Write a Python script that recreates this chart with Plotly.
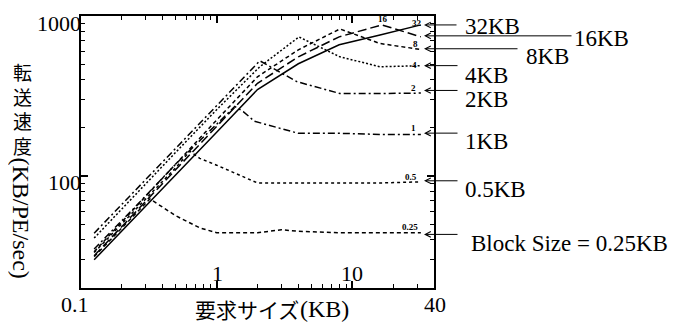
import numpy as np
import plotly.graph_objects as go

# ---------------- data ----------------
block_labels = ["32KB", "16KB", "8KB", "4KB", "2KB", "1KB", "0.5KB", "Block Size = 0.25KB"]
curve_tags = ["32", "16", "8", "4", "2", "1", "0.5", "0.25"]

x_32 = [0.125, 0.25, 0.5, 1, 2, 4, 8, 16, 32]
y_32 = [30, 55, 102, 188, 347, 503, 661, 762, 880]

x_16 = [0.125, 0.25, 0.5, 1, 2, 4, 8, 16.5, 32]
y_16 = [31.8, 59, 109, 204, 380, 556, 741, 880, 741]

x_8 = [0.125, 0.25, 0.5, 1, 2, 4, 8.1, 16, 32]
y_8 = [33.7, 63.5, 120, 224, 417, 615, 830, 673, 618]

x_4 = [0.125, 0.25, 0.5, 1, 2.08, 4.04, 8.1, 16, 32]
y_4 = [41, 75.5, 141, 260, 482, 740, 556, 482, 489]

x_2 = [0.125, 0.25, 0.5, 1, 2.08, 3.9, 8.1, 16, 32]
y_2 = [44, 81, 149, 275, 525, 389, 328, 328, 330]

x_1 = [0.125, 0.25, 0.5, 1, 1.36, 1.57, 1.9, 4, 8, 16, 32]
y_1 = [35, 64, 119, 212, 272, 253, 220, 185, 185, 182, 182]

x_05 = [0.125, 0.25, 0.5, 0.635, 0.75, 1, 2, 4, 8, 16, 32]
y_05 = [33.3, 61, 113, 143, 129, 117, 90.6, 90.6, 90.6, 90.6, 92]

x_025 = [0.125, 0.25, 0.322, 0.5, 0.75, 1, 2, 3, 4, 8, 16, 32]
y_025 = [31.4, 58, 72, 56.5, 47.5, 44.3, 44.3, 46.2, 45.2, 44.3, 44.3, 44.3]

x_tick_labels = ["0.1", "1", "10", "40"]
y_tick_labels = ["1000", "100"]

# ---------------- styling / layout ----------------
OFF = 8                          # default page margin of the html body
W, H = 682 - OFF, 327 - OFF
L, R, T, B = 81, 434, 14, 288    # plot area in window pixels
SERIF = "Liberation Serif"
CJK = "Noto Sans CJK JP"

def px(xp):
    return (xp - L) / (R - L)

def py(yp):
    return (B - yp) / (B - T)

series = [
    (x_32, y_32, "solid"),
    (x_16, y_16, "9px,4px"),
    (x_8, y_8, "4px,3px"),
    (x_4, y_4, "2px,2px"),
    (x_2, y_2, "7px,3px,2px,3px"),
    (x_1, y_1, "7px,3px,2px,3px"),
    (x_05, y_05, "3px,3px"),
    (x_025, y_025, "4px,3px"),
]

fig = go.Figure()
for (xs, ys, dash), name in zip(series, block_labels):
    fig.add_trace(go.Scatter(x=xs, y=ys, mode="lines", name=name,
                             line=dict(color="black", width=1.5, dash=dash),
                             showlegend=False, hoverinfo="skip"))

ann = []
# arrows + right labels
arrow_y = [23, 34, 47, 64, 89, 132, 180, 234]
arrow_tail = [458, 573, 519, 459, 459, 459, 459, 459]
label_x = [464, 573, 525, 464, 464, 464, 464, 470]
label_y = [25, 37, 55, 74, 98, 140, 189, 243]
tip_x = 424
for ay_, tail, lx, ly, lab in zip(arrow_y, arrow_tail, label_x, label_y, block_labels):
    ann.append(dict(xref="paper", yref="paper", x=px(tip_x), y=py(ay_), text="",
                    showarrow=True, arrowhead=5, arrowsize=1.1, arrowwidth=1,
                    arrowcolor="black", ax=tail - tip_x, ay=0))
    ann.append(dict(xref="paper", yref="paper", x=px(lx), y=py(ly), text=lab,
                    showarrow=False, xanchor="left", yanchor="middle", borderpad=0,
                    font=dict(family=SERIF, size=23, color="black")))

# small tags at curve ends
tag_pos = [(417, 21), (383, 17), (415, 42), (414, 63), (413, 87), (413, 127), (411, 176), (410, 227)]
for (tx, ty), tg in zip(tag_pos, curve_tags):
    ann.append(dict(xref="paper", yref="paper", x=px(tx), y=py(ty), text="<b>%s</b>" % tg,
                    showarrow=False, xanchor="center", yanchor="middle",
                    font=dict(family=SERIF, size=9, color="black")))

# tick labels
xt_pos = [(75, 305), (217, 273), (352, 273), (435, 305)]
for (tx, ty), t in zip(xt_pos, x_tick_labels):
    ann.append(dict(xref="paper", yref="paper", x=px(tx), y=py(ty), text=t,
                    showarrow=False, xanchor="center", yanchor="middle",
                    font=dict(family=SERIF, size=22, color="black")))
yt_pos = [(83, 22), (83, 182)]
for (tx, ty), t in zip(yt_pos, y_tick_labels):
    ann.append(dict(xref="paper", yref="paper", x=px(tx), y=py(ty), text=t,
                    showarrow=False, xanchor="right", yanchor="middle",
                    font=dict(family=SERIF, size=22, color="black")))

# axis titles
ann.append(dict(xref="paper", yref="paper", x=px(193), y=py(309), text="要求サイズ",
                showarrow=False, xanchor="left", yanchor="middle",
                font=dict(family=CJK, size=21, color="black")))
ann.append(dict(xref="paper", yref="paper", x=px(298), y=py(309), text="(KB)",
                showarrow=False, xanchor="left", yanchor="middle",
                font=dict(family=SERIF, size=24, color="black")))
ann.append(dict(xref="paper", yref="paper", x=px(22), y=py(107), text="転<br>送<br>速<br>度",
                showarrow=False, xanchor="center", yanchor="middle",
                font=dict(family=CJK, size=19, color="black")))
ann.append(dict(xref="paper", yref="paper", x=px(21), y=py(217), text="(KB/PE/sec)",
                showarrow=False, xanchor="center", yanchor="middle", textangle=90,
                font=dict(family=SERIF, size=24, color="black")))

x_minor = [0.2, 0.3, 0.4, 0.5, 0.6, 0.7, 0.8, 0.9, 2, 3, 4, 5, 6, 7, 8, 9, 20, 30]
y_minor = [30, 40, 50, 60, 70, 80, 90, 200, 300, 400, 500, 600, 700, 800, 900]

fig.update_layout(
    width=W, height=H, autosize=False,
    margin=dict(l=L - OFF, r=682 - R, t=T - OFF, b=327 - B, pad=0),
    paper_bgcolor="white", plot_bgcolor="white",
    annotations=ann,
    xaxis=dict(type="log", range=[-1, np.log10(40)], showgrid=False,
               showline=True, linewidth=2, linecolor="black", mirror="ticks",
               ticks="inside", ticklen=7, tickwidth=1.5, tickcolor="black",
               tickvals=[0.1, 1, 10], showticklabels=False,
               minor=dict(tickvals=x_minor, ticks="inside", ticklen=4,
                          tickwidth=1.2, tickcolor="black", showgrid=False)),
    yaxis=dict(type="log", range=[np.log10(20), 3], showgrid=False,
               showline=True, linewidth=2, linecolor="black", mirror="ticks",
               ticks="inside", ticklen=7, tickwidth=1.5, tickcolor="black",
               tickvals=[100, 1000], showticklabels=False,
               minor=dict(tickvals=y_minor, ticks="inside", ticklen=4,
                          tickwidth=1.2, tickcolor="black", showgrid=False)),
)

fig.write_html("out.html")
